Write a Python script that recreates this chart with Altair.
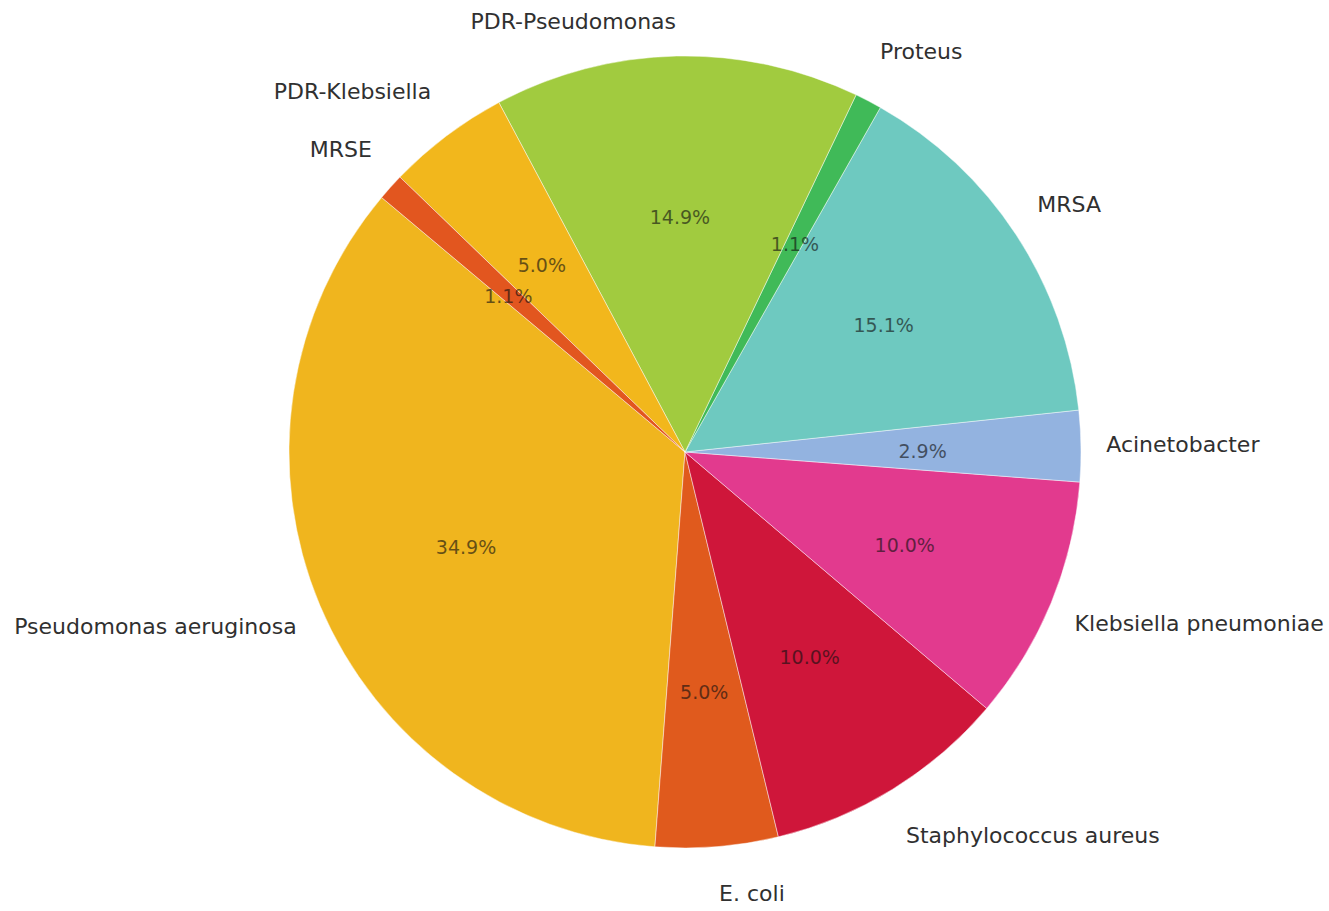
import math
import altair as alt
import pandas as pd

names = ["Pseudomonas aeruginosa", "E. coli", "Staphylococcus aureus",
         "Klebsiella pneumoniae", "Acinetobacter", "MRSA", "Proteus",
         "PDR-Pseudomonas", "PDR-Klebsiella", "MRSE"]
values = [34.9, 5.0, 10.0, 10.0, 2.9, 15.1, 1.1, 14.9, 5.0, 1.1]
colors = ["#F0B51E", "#E05A1D", "#CF163A", "#E23A8E", "#93B3E0",
          "#6EC9C0", "#40BA58", "#A1CB3F", "#F2B71C", "#E2561F"]

START_DEG = 140  # counter-clockwise start angle of the first slice (math convention)
CX, CY = 685, 452
R = 396
RX_LAB, RY_LAB = 383 * 1.1, 410 * 1.1

df = pd.DataFrame({"name": names, "value": values, "idx": list(range(len(names)))})

start = math.radians(90 - START_DEG) % (2 * math.pi)
theta_scale = alt.Scale(domain=[0, 100], range=[start, start + 2 * math.pi])

arcs = alt.Chart(df).mark_arc(radius=R, stroke="white", strokeWidth=1, strokeOpacity=0.45).encode(
    theta=alt.Theta("value:Q", stack=True, scale=theta_scale),
    order=alt.Order("idx:Q", sort="descending"),
    color=alt.Color("name:N", scale=alt.Scale(domain=names, range=colors), legend=None),
    x=alt.value(CX),
    y=alt.value(CY),
)

lab = alt.Chart(df).transform_window(
    cum="sum(value)", sort=[alt.SortField("idx")], frame=[None, 0]
).transform_calculate(
    mid="100 - datum.cum + datum.value / 2",
    ang=f"({START_DEG} + (datum.cum - datum.value / 2) * 3.6) * PI / 180",
).transform_calculate(
    side="cos(datum.ang) < 0 ? 'L' : 'R'",
    pct="format(datum.value, '.1f') + '%'",
    lx=f"{CX} + {RX_LAB} * cos(datum.ang)",
    ly=f"clamp({CY} - {RY_LAB} * sin(datum.ang), 22, 894)",
)

lab_enc = dict(
    x=alt.X("lx:Q", scale=None, axis=None),
    y=alt.Y("ly:Q", scale=None, axis=None),
    text="name:N",
)

left = lab.transform_filter("datum.side == 'L'").mark_text(
    align="right", baseline="middle", font="DejaVu Sans",
    fontSize=22, color="#303030"
).encode(**lab_enc)

right = lab.transform_filter("datum.side == 'R'").mark_text(
    align="left", baseline="middle", font="DejaVu Sans",
    fontSize=22, color="#303030"
).encode(**lab_enc)

pcts = lab.mark_text(
    radius=R * 0.6, align="center", baseline="middle", font="DejaVu Sans",
    fontSize=19, color="#111111", opacity=0.62
).encode(
    text="pct:N",
    theta=alt.Theta("mid:Q", stack=False, scale=theta_scale),
    x=alt.value(CX),
    y=alt.value(CY + 4),
)

chart = alt.layer(arcs, left, right, pcts).properties(
    width=1329, height=911, autosize=alt.AutoSizeParams(type="none"), padding=0
).configure_view(stroke=None)

chart.save("out.html", embed_options={"renderer": "svg", "actions": False})
